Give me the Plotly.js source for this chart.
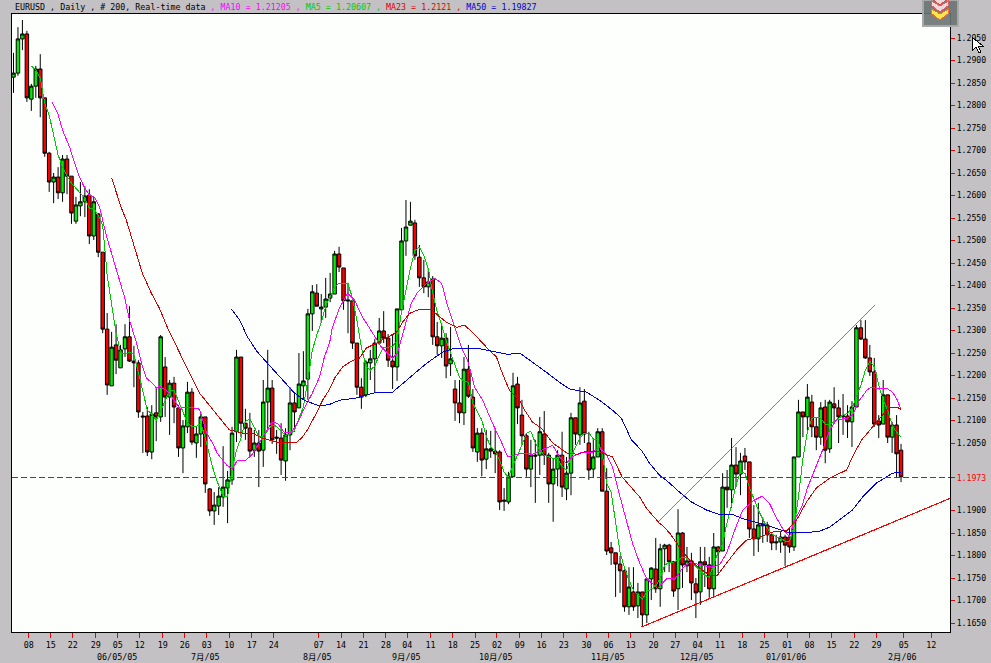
<!DOCTYPE html>
<html><head><meta charset="utf-8">
<script src="https://cdn.plot.ly/plotly-3.0.1.min.js"></script>
<style>html,body{margin:0;padding:0;background:#c3c1c4;overflow:hidden}
.scatterlayer path,.shapelayer path{shape-rendering:crispEdges}</style>
</head><body><div id="chart" style="width:991px;height:663px"></div>
<script>
const bars = Array.from({length:200},(_, i)=>i);
const opens = [1.2863,1.2872,1.2948,1.2959,1.2814,1.2843,1.2881,1.2817,1.2694,1.2630,
1.2641,1.2606,1.2681,1.2643,1.2543,1.2577,1.2586,1.2601,1.2510,1.2559,
1.2474,1.2303,1.2177,1.2268,1.2217,1.2259,1.2286,1.2232,1.2228,1.2110,
1.2110,1.2030,1.2117,1.2108,1.2219,1.2152,1.2183,1.2128,1.2039,1.2086,
1.2163,1.2050,1.2070,1.2108,1.1948,1.1899,1.1910,1.1930,1.1950,1.1968,
1.2075,1.2241,1.2094,1.2083,1.2034,1.2050,1.2034,1.2141,1.2172,1.2063,
1.2061,1.2010,1.2068,1.2139,1.2128,1.2177,1.2192,1.2337,1.2383,1.2348,
1.2352,1.2372,1.2381,1.2470,1.2439,1.2368,1.2366,1.2272,1.2174,1.2157,
1.2228,1.2237,1.2272,1.2299,1.2283,1.2232,1.2219,1.2346,1.2499,1.2534,
1.2539,1.2463,1.2417,1.2397,1.2414,1.2286,1.2266,1.2283,1.2226,1.2170,
1.2139,1.2117,1.2214,1.2152,1.2030,1.2072,1.2014,1.2037,1.2032,1.2030,
1.1923,1.1919,1.1975,1.2181,1.2112,1.2066,1.1992,1.2023,1.2023,1.2070,
1.2023,1.1959,1.1992,1.2023,1.1948,1.1983,1.2106,1.2068,1.2143,1.2050,
1.1992,1.2019,1.2075,1.1943,1.1817,1.1806,1.1781,1.1766,1.1686,1.1719,
1.1688,1.1719,1.1668,1.1748,1.1770,1.1726,1.1815,1.1823,1.1786,1.1726,
1.1850,1.1777,1.1788,1.1737,1.1719,1.1786,1.1779,1.1726,1.1819,1.1810,
1.1952,1.1946,1.2001,1.1981,1.2021,1.2008,1.1859,1.1837,1.1866,1.1868,
1.1846,1.1828,1.1830,1.1841,1.1841,1.1819,1.2019,1.2119,1.2108,1.2141,
1.2086,1.2063,1.2130,1.2037,1.2137,1.2128,1.2108,1.2110,1.2097,1.2130,
1.2306,1.2281,1.2239,1.2208,1.2099,1.2092,1.2157,1.2063,1.2090,1.2034];
const highs = [1.2917,1.2974,1.2990,1.2966,1.2848,1.2888,1.2914,1.2817,1.2697,1.2650,
1.2663,1.2690,1.2690,1.2643,1.2597,1.2630,1.2621,1.2614,1.2597,1.2561,
1.2474,1.2339,1.2297,1.2314,1.2268,1.2314,1.2354,1.2266,1.2234,1.2119,
1.2130,1.2134,1.2172,1.2290,1.2241,1.2190,1.2197,1.2134,1.2101,1.2186,
1.2172,1.2086,1.2119,1.2108,1.1950,1.1941,1.1952,1.2043,1.1988,1.2086,
1.2257,1.2241,1.2126,1.2117,1.2079,1.2079,1.2190,1.2257,1.2190,1.2079,
1.2094,1.2083,1.2174,1.2161,1.2250,1.2254,1.2348,1.2401,1.2403,1.2381,
1.2417,1.2428,1.2477,1.2486,1.2439,1.2406,1.2366,1.2272,1.2194,1.2234,
1.2257,1.2281,1.2328,1.2343,1.2292,1.2290,1.2348,1.2528,1.2590,1.2586,
1.2546,1.2490,1.2457,1.2439,1.2421,1.2319,1.2317,1.2294,1.2308,1.2190,
1.2190,1.2241,1.2268,1.2170,1.2083,1.2083,1.2079,1.2077,1.2083,1.2034,
1.1950,1.1986,1.2206,1.2197,1.2146,1.2072,1.2057,1.2057,1.2108,1.2121,
1.2028,1.2017,1.2034,1.2075,1.2019,1.2117,1.2106,1.2174,1.2170,1.2075,
1.2061,1.2083,1.2083,1.1994,1.1830,1.1806,1.1799,1.1768,1.1774,1.1774,
1.1739,1.1719,1.1750,1.1774,1.1839,1.1826,1.1826,1.1826,1.1788,1.1903,
1.1852,1.1819,1.1806,1.1750,1.1819,1.1819,1.1797,1.1850,1.1821,1.1983,
1.1990,1.2061,1.2041,1.2028,1.2039,1.2008,1.1912,1.1917,1.1885,1.1875,
1.1852,1.1846,1.1852,1.1846,1.1863,1.2019,1.2146,1.2119,1.2181,1.2157,
1.2106,1.2141,1.2146,1.2146,1.2174,1.2146,1.2159,1.2134,1.2143,1.2312,
1.2323,1.2323,1.2268,1.2239,1.2112,1.2190,1.2157,1.2097,1.2112,1.2048];
const lows = [1.2828,1.2866,1.2923,1.2808,1.2788,1.2817,1.2774,1.2686,1.2608,1.2583,
1.2592,1.2586,1.2603,1.2537,1.2537,1.2554,1.2552,1.2492,1.2501,1.2463,
1.2294,1.2157,1.2177,1.2203,1.2217,1.2241,1.2230,1.2174,1.2106,1.2028,
1.2021,1.2014,1.2054,1.2097,1.2108,1.2068,1.2094,1.2019,1.1983,1.2072,
1.2046,1.2017,1.2041,1.1939,1.1888,1.1868,1.1890,1.1908,1.1872,1.1957,
1.2052,1.2063,1.2057,1.2021,1.2019,1.1952,1.1997,1.2079,1.2048,1.2026,
1.1979,1.1966,1.2034,1.2075,1.2128,1.2146,1.2146,1.2299,1.2354,1.2317,
1.2328,1.2363,1.2381,1.2430,1.2346,1.2294,1.2259,1.2157,1.2126,1.2152,
1.2190,1.2161,1.2268,1.2272,1.2219,1.2170,1.2188,1.2346,1.2466,1.2534,
1.2457,1.2397,1.2383,1.2374,1.2268,1.2246,1.2239,1.2194,1.2199,1.2099,
1.2094,1.2090,1.2150,1.2030,1.2008,1.1976,1.1992,1.2017,1.1983,1.1901,
1.1899,1.1914,1.1975,1.2092,1.2046,1.1975,1.1952,1.1917,1.1979,1.2001,
1.1917,1.1875,1.1954,1.1930,1.1923,1.1934,1.2046,1.2046,1.2050,1.1968,
1.1972,1.2019,1.1943,1.1801,1.1779,1.1708,1.1717,1.1675,1.1668,1.1677,
1.1661,1.1641,1.1650,1.1701,1.1717,1.1686,1.1763,1.1763,1.1708,1.1679,
1.1728,1.1763,1.1701,1.1661,1.1690,1.1730,1.1706,1.1706,1.1761,1.1810,
1.1906,1.1906,1.1952,1.1934,1.1990,1.1839,1.1799,1.1808,1.1828,1.1830,
1.1812,1.1812,1.1806,1.1777,1.1806,1.1810,1.2019,1.2063,1.2079,1.2063,
1.2034,1.2046,1.2005,1.2028,1.2094,1.2050,1.2068,1.2061,1.2041,1.2130,
1.2279,1.2237,1.2199,1.2086,1.2061,1.2092,1.2050,1.2028,1.1972,1.1963];
const closes = [1.2872,1.2948,1.2959,1.2817,1.2843,1.2881,1.2817,1.2694,1.2630,1.2641,
1.2606,1.2681,1.2643,1.2561,1.2579,1.2586,1.2599,1.2510,1.2586,1.2474,
1.2303,1.2179,1.2263,1.2234,1.2257,1.2286,1.2232,1.2228,1.2119,1.2108,
1.2030,1.2114,1.2108,1.2286,1.2152,1.2183,1.2130,1.2039,1.2088,1.2163,
1.2052,1.2070,1.2108,1.1959,1.1899,1.1912,1.1932,1.1952,1.1968,1.2072,
1.2241,1.2094,1.2083,1.2032,1.2050,1.2032,1.2141,1.2172,1.2057,1.2061,
1.2012,1.2068,1.2139,1.2119,1.2181,1.2188,1.2337,1.2386,1.2354,1.2352,
1.2370,1.2381,1.2470,1.2441,1.2366,1.2366,1.2272,1.2174,1.2152,1.2230,
1.2237,1.2272,1.2299,1.2283,1.2234,1.2219,1.2348,1.2499,1.2530,1.2543,
1.2466,1.2417,1.2397,1.2408,1.2286,1.2266,1.2283,1.2221,1.2237,1.2139,
1.2117,1.2214,1.2154,1.2039,1.2072,1.2012,1.2037,1.2032,1.2026,1.1919,
1.1921,1.1975,1.2177,1.2128,1.2066,1.1992,1.2023,1.2021,1.2075,1.2023,
1.1959,1.1992,1.2023,1.1952,1.1983,1.2106,1.2070,1.2139,1.2070,1.1990,
1.2019,1.2075,1.1943,1.1810,1.1806,1.1781,1.1766,1.1686,1.1730,1.1686,
1.1719,1.1668,1.1748,1.1772,1.1726,1.1815,1.1823,1.1786,1.1721,1.1850,
1.1779,1.1788,1.1739,1.1717,1.1786,1.1779,1.1726,1.1819,1.1808,1.1952,
1.1946,1.2001,1.1981,1.2010,1.2008,1.1859,1.1837,1.1868,1.1870,1.1846,
1.1828,1.1830,1.1841,1.1823,1.1819,1.2019,1.2119,1.2108,1.2152,1.2086,
1.2063,1.2128,1.2034,1.2141,1.2128,1.2108,1.2110,1.2097,1.2130,1.2306,
1.2281,1.2239,1.2208,1.2092,1.2090,1.2157,1.2063,1.2090,1.2026,1.1975];

const ma5 = [null,null,null,null,1.2888,1.2879,1.2861,1.2805,1.2778,1.2734,
1.2690,1.2663,1.2643,1.2627,1.2616,1.2607,1.2594,1.2572,1.2572,1.2556,
1.2534,1.2423,1.2361,1.2294,1.2252,1.2247,1.2252,1.2247,1.2207,1.2167,
1.2123,1.2114,1.2101,1.2121,1.2145,1.2167,1.2167,1.2141,1.2119,1.2094,
1.2087,1.2087,1.2094,1.2061,1.2023,1.1983,1.1956,1.1932,1.1932,1.1990,
1.2034,1.2061,1.2098,1.2103,1.2085,1.2065,1.2065,1.2078,1.2090,1.2087,
1.2078,1.2067,1.2070,1.2078,1.2105,1.2130,1.2190,1.2256,1.2290,1.2318,
1.2354,1.2374,1.2396,1.2405,1.2405,1.2403,1.2372,1.2323,1.2263,1.2221,
1.2212,1.2221,1.2245,1.2263,1.2263,1.2265,1.2278,1.2341,1.2390,1.2438,
1.2478,1.2485,1.2467,1.2438,1.2383,1.2341,1.2312,1.2278,1.2250,1.2223,
1.2196,1.2187,1.2185,1.2138,1.2118,1.2101,1.2065,1.2041,1.2032,1.2012,
1.1985,1.1974,1.2001,1.2023,1.2045,1.2072,1.2076,1.2050,1.2034,1.2023,
1.2019,1.2016,1.2016,1.1998,1.1990,1.2019,1.2041,1.2061,1.2072,1.2072,
1.2059,1.2056,1.2027,1.1961,1.1941,1.1879,1.1807,1.1772,1.1745,1.1723,
1.1714,1.1703,1.1719,1.1725,1.1732,1.1750,1.1778,1.1785,1.1785,1.1790,
1.1796,1.1794,1.1787,1.1776,1.1765,1.1756,1.1752,1.1778,1.1807,1.1827,
1.1874,1.1912,1.1958,1.1985,1.1983,1.1952,1.1927,1.1901,1.1881,1.1861,
1.1848,1.1841,1.1839,1.1832,1.1832,1.1863,1.1930,1.2016,1.2074,1.2105,
1.2107,1.2105,1.2092,1.2090,1.2098,1.2105,1.2112,1.2116,1.2127,1.2154,
1.2178,1.2212,1.2232,1.2219,1.2178,1.2145,1.2123,1.2090,1.2074,1.2063];

const ma10Bars = [8.7,9.9,11,12.6,13.7,14.8,15.9,17,18.2,19.3,20,21.1,23.1,24.9,26,27.6,28.7,29.8,30.9,32.1,32.7,34.3,35.7,37.2,39.5,41.7,43.3,44.6,45.7,47.8,49.1,50.2,51.8,53.4,55.2,55.8,57.9,59.2,60.8,62.3,63.7,65.2,67,68.6,69.7,70.9,71.5,73.1,74.9,76.5,78,79.4,80.9,82.5,83.9,85,86.1,87.7,89.2,90.6,92.6,94.4,96,97.3,98.9,100.4,101.8,103.4,105.2,107.4,109.4,110.8,112.3,113.9,116.4,118.6,120.9,122.4,124,125.3,127.6,129.8,131.4,133,134.3,135.9,137.4,138.8,140.4,141.9,144.4,146.6,148.2,150,151.6,154.3,156.5,158.3,159.9,161.7,163.5,166.1,167.9,169.5,171.1,172.4,174,175.1,176.7,178,179.6,181.4,183,184.5,186.8,188.1,189.7,191.3,192.2,194.2,195.7,197.1,198.2,199];
const ma10 = [1.2807,1.2783,1.2745,1.2707,1.2672,1.2641,1.2618,1.2601,1.2596,1.2574,1.2545,1.2501,1.2434,1.2374,1.2323,1.2272,1.2227,1.2194,1.2185,1.2172,1.2176,1.2167,1.2150,1.2127,1.2130,1.2125,1.2072,1.2050,1.2027,1.2001,1.1992,1.2012,1.2010,1.2023,1.2052,1.2061,1.2096,1.2094,1.2072,1.2074,1.2094,1.2127,1.2161,1.2196,1.2241,1.2274,1.2307,1.2350,1.2383,1.2367,1.2334,1.2312,1.2290,1.2263,1.2250,1.2239,1.2250,1.2307,1.2361,1.2385,1.2405,1.2416,1.2405,1.2356,1.2307,1.2263,1.2234,1.2174,1.2145,1.2094,1.2052,1.2019,1.2023,1.2027,1.2025,1.2034,1.2045,1.2019,1.2005,1.2019,1.2030,1.2030,1.2041,1.2023,1.1996,1.1934,1.1879,1.1827,1.1783,1.1750,1.1727,1.1750,1.1747,1.1772,1.1785,1.1779,1.1774,1.1779,1.1805,1.1856,1.1901,1.1923,1.1932,1.1916,1.1883,1.1861,1.1841,1.1879,1.1907,1.1950,1.1990,1.2034,1.2079,1.2101,1.2105,1.2112,1.2145,1.2167,1.2174,1.2170,1.2172,1.2163,1.2145,1.2123];

const ma23Bars = [22,23.1,24.2,25.3,26.7,27.8,28.9,30.9,32.7,34.5,36.1,37.9,39.9,41.7,43.5,45.5,48.4,51.3,53.6,55.8,57.4,59,61.2,63.5,64.6,65.9,67.9,69.3,70.9,72,73.8,75.8,77.6,79.1,81.4,83.6,85.9,87.2,88.8,91,93.7,95.1,97.1,99.3,101.1,102.9,104.9,106.7,108.3,109.6,111.2,113.5,114.6,116.4,118.4,120.9,124.2,126.5,128.5,131.4,134.3,136.5,140.4,141.9,144.8,145.5,147.1,149.3,151.6,153.8,156.1,157.8,159.9,162.1,164.3,167.3,170.2,173.5,175.6,177.8,180,183,186.8,188.1,190.1,192.4,194.2,196.4,198,199];
const ma23 = [1.2639,1.2605,1.2572,1.2545,1.2501,1.2467,1.2427,1.2383,1.2350,1.2307,1.2274,1.2234,1.2196,1.2161,1.2139,1.2112,1.2079,1.2072,1.2072,1.2061,1.2056,1.2052,1.2050,1.2052,1.2061,1.2079,1.2116,1.2145,1.2170,1.2194,1.2219,1.2232,1.2239,1.2261,1.2272,1.2283,1.2296,1.2318,1.2338,1.2347,1.2347,1.2334,1.2318,1.2307,1.2312,1.2296,1.2274,1.2256,1.2241,1.2205,1.2167,1.2145,1.2123,1.2096,1.2083,1.2050,1.2027,1.2025,1.2032,1.2030,1.2019,1.1974,1.1930,1.1905,1.1872,1.1867,1.1850,1.1819,1.1790,1.1772,1.1756,1.1756,1.1783,1.1812,1.1834,1.1841,1.1852,1.1856,1.1879,1.1919,1.1950,1.1972,1.1990,1.2019,1.2056,1.2083,1.2105,1.2130,1.2130,1.2125];

const ma50Bars = [48.9,50.7,52.5,54.7,56.7,59,61.2,63,65.2,68.6,70.9,73.1,76.9,81.4,85,88.8,92.6,96.2,98.4,103.8,108.3,110.8,113.5,116.4,119.5,122.4,124.7,128.5,131.4,134.3,136.3,138.6,140.8,142.6,144.8,147.1,149.3,152,155.4,158.7,161,163.2,166.6,170.2,173.5,176.9,180.7,183,185.7,188.1,190.4,193.5,197.1,198.9];
const ma50 = [1.2347,1.2323,1.2285,1.2252,1.2230,1.2205,1.2179,1.2161,1.2145,1.2132,1.2136,1.2145,1.2150,1.2163,1.2163,1.2194,1.2227,1.2252,1.2259,1.2261,1.2252,1.2247,1.2250,1.2230,1.2207,1.2185,1.2170,1.2163,1.2145,1.2123,1.2105,1.2056,1.2034,1.2005,1.1979,1.1961,1.1941,1.1919,1.1901,1.1890,1.1892,1.1883,1.1874,1.1863,1.1852,1.1850,1.1854,1.1863,1.1883,1.1901,1.1930,1.1961,1.1983,1.1985];

const upperTrendBars = [144.6,193.0];
const upperTrend = [1.1876,1.2356];
const lowerTrendBars = [140.8,211.2];
const lowerTrend = [1.1641,1.1932];
const lastPrice = 1.1973;

const yTickValues = [1.2950,1.2900,1.2850,1.2800,1.2750,1.2700,1.2650,1.2600,1.2550,1.2500,1.2450,1.2400,1.2350,1.2300,1.2250,1.2200,1.2150,1.2100,1.2050,1.1973,1.1900,1.1850,1.1800,1.1750,1.1700,1.1650];
const xTickBars = [3.43,8.36,13.29,18.45,23.38,28.3,33.47,38.4,43.33,48.4,53.43,58.36,68.45,73.43,78.5,83.5,88.3,93.5,98.5,103.5,108.4,113.5,118.4,123.4,128.5,133.4,138.4,143.5,148.4,153.4,158.4,163.4,168.4,173.5,178.5,183.4,188.5,193.5,199.6,205.8];
const dayLabels = ["08","15","22","29","05","12","19","26","03","10","17","24","07","14","21","28","04","11","18","25","02","09","16","23","30","06","13","20","27","04","11","18","25","01","08","15","22","29","05","12"];
const monthLabels = {4:"06/05/05",8:"7月/05",12:"8月/05",16:"9月/05",20:"10月/05",25:"11月/05",29:"12月/05",33:"01/01/06",38:"2月/06"};

const W=991,H=663,L=12,R=950,T=14,B=632;
const pxX = x => (x-L)/(R-L);
const pxY = y => (B-y)/(B-T);
const poly = pts => 'M'+pts.map(p=>pxX(p[0]).toFixed(5)+','+pxY(p[1]).toFixed(5)).join('L')+'Z';
const deco = (pts,fill,line,w)=>({type:'path',xref:'paper',yref:'paper',path:poly(pts),fillcolor:fill,line:{color:line||fill,width:w||0},layer:'above'});
const chevron=(y,c,b)=>deco([[932,y],[940,y+5],[948,y],[948,y+5],[940,y+11],[932,y+5]],c,b,1);
const labelFont='"DejaVu Sans Mono","Noto Sans CJK SC",monospace';

const traces = [
 {type:'candlestick',x:bars,open:opens,high:highs,low:lows,close:closes,whiskerwidth:0,
  increasing:{line:{color:'#000',width:1},fillcolor:'#00ec00'},
  decreasing:{line:{color:'#000',width:1},fillcolor:'#f80000'},hoverinfo:'skip'},
 {type:'scatter',mode:'lines',x:bars,y:ma5,line:{color:'#00c800',width:1},connectgaps:false,hoverinfo:'skip'},
 {type:'scatter',mode:'lines',x:ma10Bars,y:ma10,line:{color:'#ff00ff',width:1},hoverinfo:'skip'},
 {type:'scatter',mode:'lines',x:ma23Bars,y:ma23,line:{color:'#d00000',width:1},hoverinfo:'skip'},
 {type:'scatter',mode:'lines',x:ma50Bars,y:ma50,line:{color:'#0000d0',width:1},hoverinfo:'skip'},
 {type:'scatter',mode:'lines',x:upperTrendBars,y:upperTrend,line:{color:'#f00000',width:0.7},cliponaxis:false,hoverinfo:'skip'},
 {type:'scatter',mode:'lines',x:lowerTrendBars,y:lowerTrend,line:{color:'#ff0000',width:1.2},cliponaxis:false,hoverinfo:'skip'}
];

const monthNotes = Object.keys(monthLabels).map(k=>({xref:'x',yref:'paper',x:xTickBars[k]-0.2,y:pxY(657),
  xanchor:'center',yanchor:'middle',showarrow:false,text:monthLabels[k],font:{family:labelFont,size:8.4,color:'#000'}}));

const layout = {
 width:W,height:H,autosize:false,showlegend:false,hovermode:false,boxgap:0.12,boxgroupgap:0.12,
 paper_bgcolor:'#c3c1c4',plot_bgcolor:'#fdfffc',
 margin:{l:L,r:W-R,t:T,b:H-B,pad:0},
 font:{family:labelFont,size:9,color:'#000'},
 xaxis:{type:'linear',range:[(12.5-14)/4.46,(950.5-14)/4.46],rangeslider:{visible:false},
  tickmode:'array',tickvals:xTickBars,ticktext:dayLabels,
  ticks:'outside',ticklen:5,tickwidth:1,tickcolor:'#f00000',tickangle:0,
  showgrid:false,zeroline:false,showline:true,mirror:true,linecolor:'#000',linewidth:1,
  tickfont:{family:labelFont,size:8.4,color:'#000'}},
 yaxis:{type:'linear',range:[1.1650-9/4500,1.2950+24/4500],
  tickmode:'array',tickvals:yTickValues,
  ticktext:yTickValues.map(v=>v===lastPrice?'<span style="color:#ff0000">'+v.toFixed(4)+'</span>':v.toFixed(4)),
  side:'right',ticks:'outside',ticklen:4,tickwidth:1,tickcolor:'#f00000',
  showgrid:false,zeroline:false,showline:true,mirror:true,linecolor:'#000',linewidth:1,
  tickfont:{family:labelFont,size:8.2,color:'#000'}},
 shapes:[
  {type:'line',xref:'paper',yref:'y',x0:0,x1:1,y0:lastPrice,y1:lastPrice,line:{color:'#f00000',width:1,dash:'6px,3px'},layer:'above'},
  deco([[923,0],[958,0],[958,26],[923,26]],'rgba(105,115,113,0.9)','#a8a8a8',1.5),
  chevron(-6,'#e8d8d8','#d05050'),
  chevron(1,'#f0d8d8','#e06060'),
  chevron(9,'#f8e850','#f07030'),
  deco([[973,38],[973,50],[976,47],[979,53],[981,52],[978,46],[983,46]],'#ffffff','#000000',1)
 ],
 annotations:[{xref:'paper',yref:'paper',x:pxX(13),y:pxY(7),xanchor:'left',yanchor:'middle',showarrow:false,align:'left',
  font:{family:'"DejaVu Sans Mono",monospace',size:8.33,color:'#000'},
  text:'EURUSD , Daily , # 200, Real-time data<span style="color:#ff00ff"> , MA10 = 1.21205 , </span><span style="color:#00c800">MA5 = 1.20607 , </span><span style="color:#e00000">MA23 = 1.2121 , </span><span style="color:#0000d0">MA50 = 1.19827</span>'}].concat(monthNotes)
};
Plotly.newPlot('chart',traces,layout,{displayModeBar:false,staticPlot:true});
</script></body></html>
